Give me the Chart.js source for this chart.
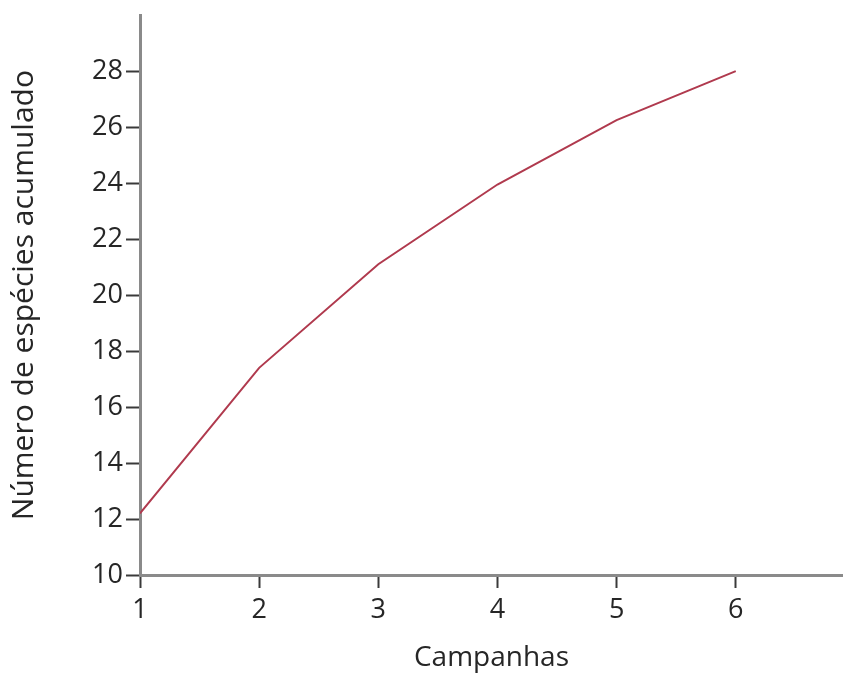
<!DOCTYPE html>
<html>
<head>
<meta charset="utf-8">
<script src="https://cdn.jsdelivr.net/npm/chart.js@4/dist/chart.umd.min.js"></script>
<style>
  html, body { margin: 0; padding: 0; background: #ffffff; }
  #wrap { width: 843px; height: 681px; position: relative; }
</style>
</head>
<body>
<div id="wrap"><canvas id="c" width="843" height="681"></canvas></div>
<script>
// Accumulated species per sampling campaign
const campanhas = [1, 2, 3, 4, 5, 6];
const especiesAcumuladas = [12.2, 17.4, 21.1, 23.95, 26.25, 28.0];

// Axis tick labels
const xTicks = [1, 2, 3, 4, 5, 6];
const yTicks = [10, 12, 14, 16, 18, 20, 22, 24, 26, 28];

const xTitle = 'Campanhas';
const yTitle = 'Número de espécies acumulado';

const FONT = "'Open Sans', 'Noto Sans', sans-serif";
const AXIS_GRAY = '#8a8a8a';
const TICK_DARK = '#3a3a3a';
const TEXT = '#262626';

new Chart(document.getElementById('c'), {
  type: 'line',
  data: {
    datasets: [{
      data: campanhas.map((x, i) => ({ x: x, y: especiesAcumuladas[i] })),
      borderColor: '#b03a4e',
      borderWidth: 2,
      pointRadius: 0,
      tension: 0,
      fill: false
    }]
  },
  options: {
    responsive: false,
    animation: false,
    layout: { padding: { top: 12, right: 0, left: 0, bottom: 0 } },
    plugins: { legend: { display: false }, tooltip: { enabled: false } },
    scales: {
      x: {
        type: 'linear',
        min: 1,
        max: 6.9,
        afterBuildTicks: s => { s.ticks = xTicks.map(v => ({ value: v })); },
        afterFit: s => { s.height = 106; },
        border: { display: true, color: AXIS_GRAY, width: 3 },
        grid: { drawOnChartArea: false, drawTicks: true, tickLength: 13, tickColor: TICK_DARK, tickWidth: 2, color: TICK_DARK },
        ticks: { font: { family: FONT, size: 27 }, color: TEXT, padding: 6, maxRotation: 0 },
        title: { display: true, text: xTitle, font: { family: FONT, size: 28 }, color: TEXT, padding: { top: 4, bottom: 6 } }
      },
      y: {
        type: 'linear',
        min: 10,
        max: 30,
        afterBuildTicks: s => { s.ticks = yTicks.map(v => ({ value: v })); },
        afterFit: s => { s.width = 140; },
        border: { display: true, color: AXIS_GRAY, width: 3 },
        grid: { drawOnChartArea: false, drawTicks: true, tickLength: 14, tickColor: TICK_DARK, tickWidth: 2, color: TICK_DARK },
        ticks: { font: { family: FONT, size: 27, lineHeight: 0.9 }, color: TEXT, padding: 3 },
        title: { display: true, text: yTitle, font: { family: FONT, size: 30 }, color: TEXT, padding: { top: 6, bottom: 4 } }
      }
    }
  }
});
</script>
</body>
</html>
